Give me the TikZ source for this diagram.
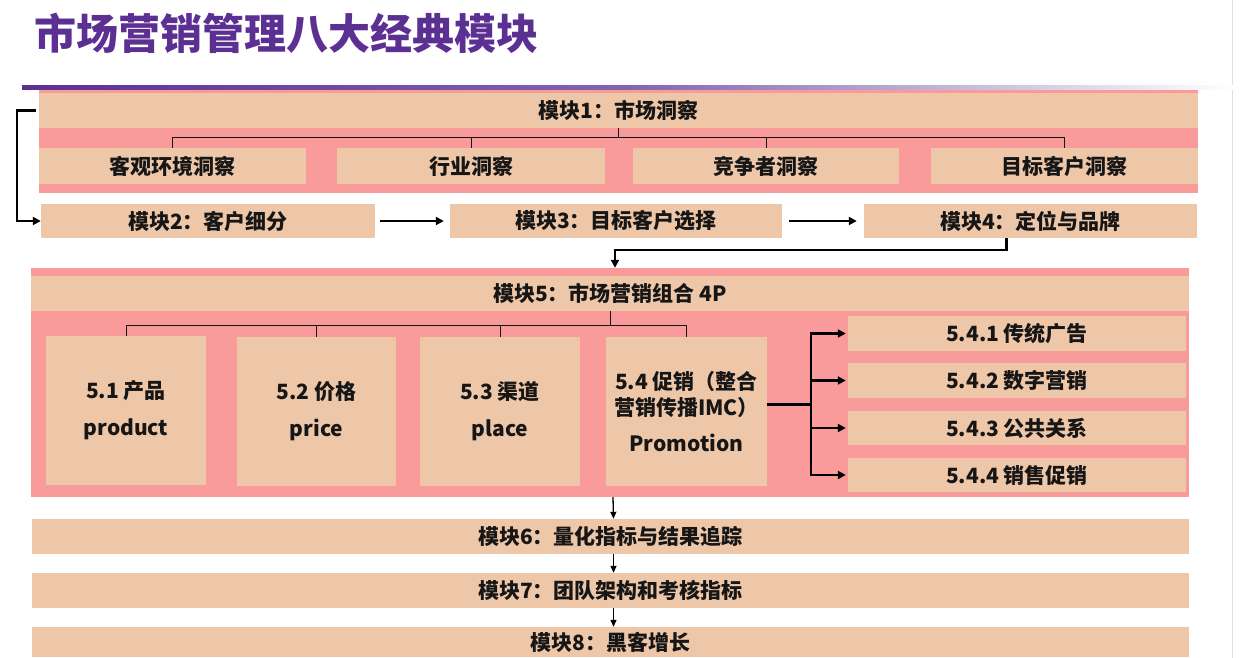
\documentclass[tikz,border=0pt]{standalone}
\usepackage{fontspec}
\setmainfont{Noto Sans CJK SC}
\usetikzlibrary{arrows.meta,calc}
\definecolor{pinkbg}{RGB}{250,155,155}
\definecolor{tanc}{RGB}{238,198,168}
\definecolor{ttl}{RGB}{92,48,146}
\definecolor{txt}{RGB}{22,22,22}
\newcommand\rbox[7]{\node[#1, minimum width={(#5-#3)*1pt}, minimum height={(#6-#4)*1pt}] (#2) at ({(#3+#5)/2},{(#4+#6)/2}) {#7};}
\tikzset{
  pinkbox/.style={fill=pinkbg, draw=none, inner sep=0pt},
  tanbox/.style={fill=tanc, draw=none, inner sep=0pt, text=txt, font=\fontsize{21}{25}\selectfont\bfseries, align=center},
  pbox/.style={tanbox, font=\fontsize{21}{37}\selectfont\bfseries},
  tree/.style={line width=1pt, draw=txt},
  thk/.style={line width=2.4pt, draw=black},
  thkarrow/.style={thk, -{Triangle[length=8pt,width=8pt]}},
  thinarrow/.style={line width=1.3pt, draw=black, -{Triangle[length=7pt,width=6pt]}}
}
\begin{document}
\begin{tikzpicture}[x=1pt,y=-1pt]
\fill[white] (0,0) rectangle (1240,658);
\useasboundingbox (0,0) rectangle (1240,658);
\draw[gray!25, line width=1pt] (1232,0) -- (1232,658);
% title
\node[anchor=west, text=ttl, inner sep=0pt, font=\fontsize{42}{48}\selectfont\bfseries] (title) at (34,33) {市场营销管理八大经典模块};
\shade[left color=ttl, right color=white, middle color=ttl!75] (22,86) rectangle (1236,90);
% module 1
\rbox{pinkbox}{m1bg}{39}{90}{1198}{193}{}
\rbox{tanbox}{m1h}{39}{93}{1198}{128}{模块1：市场洞察}
\rbox{tanbox}{s1}{39}{148}{306}{184}{客观环境洞察}
\rbox{tanbox}{s2}{337}{148}{605}{184}{行业洞察}
\rbox{tanbox}{s3}{633}{148}{899}{184}{竞争者洞察}
\rbox{tanbox}{s4}{931}{148}{1198}{184}{目标客户洞察}
\coordinate (j1) at ($(m1h.south)+(0,9)$);
\draw[tree] (m1h.south) -- (j1);
\draw[tree] (s1.north) |- (j1) -| (s4.north);
\draw[tree] (s2.north) -- (s2.north |- j1);
\draw[tree] (s3.north) -- (s3.north |- j1);
% modules 2-4
\rbox{tanbox}{m2}{41}{204}{375}{238}{模块2：客户细分}
\rbox{tanbox}{m3}{450}{204}{782}{238}{模块3：目标客户选择}
\rbox{tanbox}{m4}{864}{204}{1197}{238}{模块4：定位与品牌}
\draw[thkarrow] ([xshift=-3pt]m1h.west) -- ++(-19,0) |- (m2.west);
\draw[thkarrow] ([xshift=5pt]m2.east) -- ([xshift=-6pt]m3.west);
\draw[thkarrow] ([xshift=7pt]m3.east) -- ([xshift=-7pt]m4.west);
% module 5
\rbox{pinkbox}{m5bg}{31}{268}{1189}{497}{}
\rbox{tanbox}{m5h}{31}{276}{1189}{311}{模块5：市场营销组合 4P}
\draw[thkarrow] ([xshift=-24pt]m4.south) -- ++(0,12) -| ([xshift=5pt]m5bg.north);
\rbox{pbox}{p1}{46}{336}{206}{485}{5.1 产品\\product}
\rbox{pbox}{p2}{237}{337}{396}{486}{5.2 价格\\price}
\rbox{pbox}{p3}{420}{337}{580}{486}{5.3 渠道\\place}
\rbox{tanbox, font=\fontsize{21}{26}\selectfont\bfseries}{p4}{606}{337}{767}{486}{5.4 促销（整合\\营销传播IMC）\\[10pt]Promotion}
\coordinate (j5) at ($(m5h.south)+(0,14)$);
\draw[tree] (m5h.south) -- (j5);
\draw[tree] (p1.north) |- (j5) -| (p4.north);
\draw[tree] (p2.north) -- (p2.north |- j5);
\draw[tree] (p3.north) -- (p3.north |- j5);
\rbox{tanbox}{q1}{848}{316}{1186}{351}{5.4.1 传统广告}
\rbox{tanbox}{q2}{848}{363}{1186}{398}{5.4.2 数字营销}
\rbox{tanbox}{q3}{848}{411}{1186}{445}{5.4.3 公共关系}
\rbox{tanbox}{q4}{848}{458}{1186}{492}{5.4.4 销售促销}
\coordinate (f) at ($(p4.east)+(44,-7)$);
\draw[thk] ([yshift=7pt]p4.east) -- (f);
\draw[thkarrow] (f) |- ([xshift=-2pt]q1.west);
\draw[thkarrow] (f) |- ([xshift=-2pt]q2.west);
\draw[thkarrow] (f) |- ([xshift=-2pt]q3.west);
\draw[thkarrow] (f) |- ([xshift=-2pt]q4.west);
% modules 6-8
\rbox{tanbox}{m6}{32}{519}{1189}{554}{模块6：量化指标与结果追踪}
\rbox{tanbox}{m7}{32}{573}{1189}{608}{模块7：团队架构和考核指标}
\rbox{tanbox}{m8}{32}{627}{1189}{657}{模块8：黑客增长}
\draw[thinarrow] ([xshift=3pt]m5bg.south) -- ([xshift=3pt]m6.north);
\draw[thinarrow] ([xshift=3pt]m6.south) -- ([xshift=3pt]m7.north);
\draw[thinarrow] ([xshift=3pt]m7.south) -- ([xshift=3pt]m8.north);
\end{tikzpicture}
\end{document}
